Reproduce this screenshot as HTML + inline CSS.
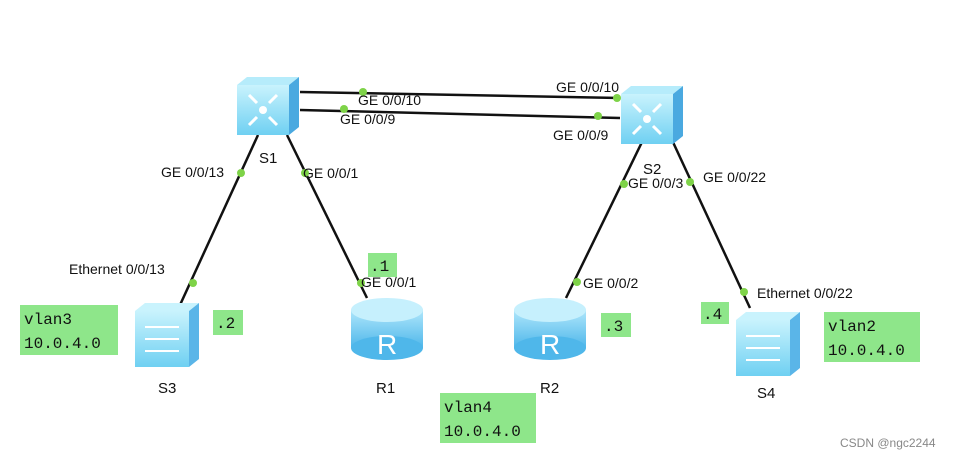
<!DOCTYPE html>
<html><head><style>
body{margin:0;background:#fff}
svg{display:block}
text{font-family:"Liberation Sans",sans-serif;font-size:14px;fill:#111}
.m{font-family:"Liberation Mono",monospace;font-size:16px;fill:#111}
.g{fill:#8ee68a}
.d{fill:#7ed348}
</style></head><body>
<svg width="957" height="460" viewBox="0 0 957 460">
<defs>
<linearGradient id="sw" x1="0" y1="0" x2="0" y2="1"><stop offset="0" stop-color="#c9f3fd"/><stop offset="1" stop-color="#6fd0f2"/></linearGradient>
<linearGradient id="rt" x1="0" y1="0" x2="0" y2="1"><stop offset="0" stop-color="#aee6fb"/><stop offset="1" stop-color="#4fb7ea"/></linearGradient>
<g id="core"><polygon points="0,8 10,0 62,0 52,8" fill="#b6ecfb"/><rect x="0" y="8" width="52" height="50" fill="url(#sw)"/><polygon points="52,8 62,0 62,50 52,58" fill="#4aa9e0"/><circle cx="26" cy="33" r="4" fill="#fff"/><g stroke="#fff" stroke-width="3" fill="none"><path d="M12 18 l8 8 M40 18 l-8 8 M12 48 l8 -8 M40 48 l-8 -8"/></g></g>
<g id="acc"><polygon points="0,8 10,0 64,0 54,8" fill="#c9f3fd"/><rect x="0" y="8" width="54" height="56" fill="url(#sw)"/><polygon points="54,8 64,0 64,56 54,64" fill="#5ab5e8"/><g stroke="#fff" stroke-width="2" fill="none"><path d="M10 24 h34 M10 36 h34 M10 48 h34"/></g></g>
<g id="rtr"><rect x="0" y="14" width="72" height="38" fill="url(#rt)"/><ellipse cx="36" cy="52" rx="36" ry="12" fill="#4fb7ea"/><ellipse cx="36" cy="14" rx="36" ry="12" fill="#c6f0fd"/><text x="26" y="58" style="font-size:28px;fill:#fff">R</text></g>
</defs>
<g stroke="#111" stroke-width="2.5">
<line x1="300" y1="92" x2="620" y2="98"/><line x1="300" y1="110" x2="620" y2="118"/>
<line x1="258" y1="135" x2="180" y2="305"/><line x1="287" y1="135" x2="367" y2="298"/>
<line x1="643" y1="140" x2="566" y2="298"/><line x1="672" y1="140" x2="750" y2="308"/>
</g>
<use href="#core" x="237" y="77"/><use href="#core" x="621" y="86"/>
<use href="#acc" x="135" y="303"/><use href="#acc" x="736" y="312"/>
<use href="#rtr" x="351" y="296"/><use href="#rtr" x="514" y="296"/>
<g class="d"><circle cx="363" cy="92" r="4"/><circle cx="617" cy="98" r="4"/><circle cx="344" cy="109" r="4"/><circle cx="598" cy="116" r="4"/><circle cx="241" cy="173" r="4"/><circle cx="193" cy="283" r="4"/><circle cx="305" cy="173" r="4"/><circle cx="361" cy="283" r="4"/><circle cx="624" cy="184" r="4"/><circle cx="690" cy="182" r="4"/><circle cx="577" cy="282" r="4"/><circle cx="744" cy="292" r="4"/></g>
<text x="358" y="105">GE 0/0/10</text><text x="556" y="92">GE 0/0/10</text>
<text x="340" y="124">GE 0/0/9</text><text x="553" y="140">GE 0/0/9</text>
<text x="161" y="177">GE 0/0/13</text><text x="303" y="178">GE 0/0/1</text>
<text x="628" y="188">GE 0/0/3</text><text x="703" y="182">GE 0/0/22</text>
<text x="69" y="274">Ethernet 0/0/13</text><text x="361" y="287">GE 0/0/1</text>
<text x="583" y="288">GE 0/0/2</text><text x="757" y="298">Ethernet 0/0/22</text>
<text x="259" y="163" style="font-size:15px">S1</text><text x="643" y="174" style="font-size:15px">S2</text>
<text x="158" y="393" style="font-size:15px">S3</text><text x="376" y="393" style="font-size:15px">R1</text>
<text x="540" y="393" style="font-size:15px">R2</text><text x="757" y="398" style="font-size:15px">S4</text>
<rect class="g" x="20" y="305" width="98" height="50"/><text class="m" x="24" y="324">vlan3</text><text class="m" x="24" y="348">10.0.4.0</text>
<rect class="g" x="824" y="312" width="96" height="50"/><text class="m" x="828" y="331">vlan2</text><text class="m" x="828" y="355">10.0.4.0</text>
<rect class="g" x="440" y="393" width="96" height="50"/><text class="m" x="444" y="412">vlan4</text><text class="m" x="444" y="436">10.0.4.0</text>
<rect class="g" x="213" y="310" width="30" height="25"/><text class="m" x="216" y="328">.2</text>
<rect class="g" x="368" y="253" width="29" height="24"/><text class="m" x="370" y="271">.1</text>
<rect class="g" x="601" y="313" width="30" height="24"/><text class="m" x="604" y="331">.3</text>
<rect class="g" x="701" y="302" width="28" height="22"/><text class="m" x="703" y="319">.4</text>
<text x="840" y="447" style="font-size:12px;fill:#888">CSDN @ngc2244</text>
</svg>
</body></html>
